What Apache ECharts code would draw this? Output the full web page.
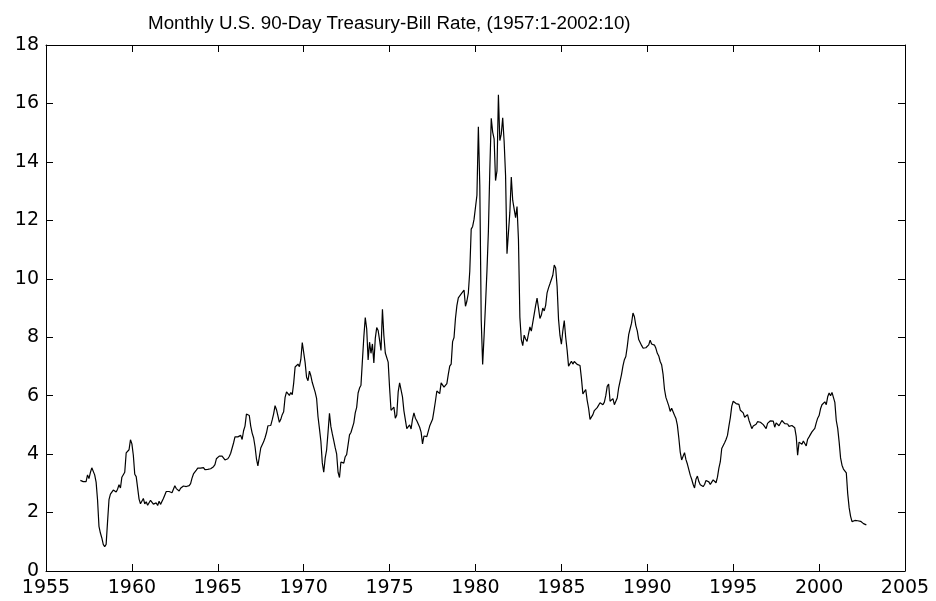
<!DOCTYPE html>
<html>
<head>
    <meta charset="utf-8">
    <title>Monthly U.S. 90-Day Treasury-Bill Rate</title>
    <script src="https://cdn.jsdelivr.net/npm/echarts@6/dist/echarts.min.js"></script>
</head>
<body style="margin:0; background:#fff;">
    <div id="chart" style="width: 936px; height: 601px;"></div>

    <script type="text/javascript">
        // monthly 90-day T-bill rate, percent, starting 1957:1
        var startYear = 1957;
        var xTicks = [1955, 1960, 1965, 1970, 1975, 1980, 1985, 1990, 1995, 2000, 2005];
        var yTicks = [0, 2, 4, 6, 8, 10, 12, 14, 16, 18];

        var rates1950s = [
            3.10, 3.08, 3.06, 3.06, 3.06, 3.29, 3.16, 3.37, 3.53, 3.58, 3.29, 3.04,
            2.44, 1.53, 1.30, 1.13, 0.91, 0.83, 0.91, 1.69, 2.44, 2.63, 2.67, 2.77,
            2.82, 2.70, 2.80, 2.95, 2.84, 3.21, 3.20, 3.38, 4.04, 4.05, 4.15, 4.49
        ];
        var rates1960s = [
            4.35, 3.96, 3.31, 3.23, 3.29, 2.46, 2.30, 2.30, 2.48, 2.30, 2.37, 2.25,
            2.24, 2.42, 2.39, 2.29, 2.29, 2.33, 2.24, 2.39, 2.28, 2.30, 2.48, 2.60,
            2.72, 2.73, 2.72, 2.73, 2.68, 2.73, 2.92, 2.82, 2.78, 2.74, 2.83, 2.87,
            2.91, 2.92, 2.89, 2.90, 2.92, 2.99, 3.18, 3.32, 3.38, 3.45, 3.52, 3.52,
            3.52, 3.53, 3.54, 3.47, 3.48, 3.48, 3.46, 3.50, 3.53, 3.57, 3.64, 3.84,
            3.81, 3.93, 3.93, 3.93, 3.89, 3.80, 3.84, 3.84, 3.92, 4.03, 4.09, 4.38,
            4.59, 4.65, 4.59, 4.62, 4.64, 4.50, 4.80, 4.96, 5.37, 5.35, 5.32, 4.96,
            4.72, 4.56, 4.26, 3.84, 3.60, 3.54, 4.21, 4.27, 4.42, 4.56, 4.73, 4.97,
            5.00, 4.98, 5.17, 5.38, 5.66, 5.52, 5.31, 5.09, 5.19, 5.35, 5.45, 5.94,
            6.13, 6.12, 6.01, 6.11, 6.03, 6.43, 6.98, 6.97, 7.08, 6.99, 7.24, 7.82
        ];
        var rates1970s = [
            7.87, 7.13, 6.63, 6.51, 6.84, 6.68, 6.45, 6.41, 6.12, 5.91, 5.28, 4.87,
            4.44, 3.70, 3.38, 3.86, 4.14, 4.75, 5.40, 4.94, 4.69, 4.46, 4.22, 4.01,
            3.38, 3.20, 3.73, 3.71, 3.69, 3.91, 3.98, 4.02, 4.66, 4.74, 4.78, 5.07,
            5.41, 5.60, 6.09, 6.26, 6.36, 7.19, 8.01, 8.67, 8.29, 7.22, 7.83, 7.45,
            7.77, 7.12, 7.96, 8.33, 8.23, 7.90, 7.55, 8.96, 8.06, 7.46, 7.47, 7.15,
            6.26, 5.50, 5.49, 5.61, 5.23, 5.34, 6.13, 6.44, 6.42, 5.96, 5.48, 5.44,
            4.87, 4.88, 5.00, 4.86, 5.20, 5.41, 5.23, 5.14, 5.08, 4.92, 4.75, 4.35,
            4.62, 4.67, 4.60, 4.54, 4.96, 5.02, 5.19, 5.49, 5.81, 6.16, 6.10, 6.07,
            6.44, 6.45, 6.29, 6.29, 6.41, 6.73, 7.01, 7.08, 7.85, 7.99, 8.64, 9.08,
            9.35, 9.32, 9.48, 9.46, 9.61, 9.06, 9.24, 9.52, 10.26, 11.70, 11.79, 12.04
        ];
        var rates1980s = [
            12.00, 12.86, 15.20, 13.20, 8.58, 7.07, 8.06, 9.13, 10.27, 11.62, 13.73, 15.49,
            15.02, 14.79, 13.36, 13.69, 16.30, 14.73, 14.95, 15.51, 14.70, 13.54, 10.86, 10.85,
            12.28, 13.48, 12.68, 12.70, 12.09, 12.47, 11.35, 8.68, 7.92, 7.71, 8.07, 7.94,
            7.86, 8.11, 8.35, 8.21, 8.19, 8.79, 9.08, 9.34, 9.00, 8.64, 8.76, 9.00,
            8.90, 9.09, 9.52, 9.69, 9.83, 9.87, 10.12, 10.47, 10.37, 9.74, 8.61, 8.06,
            7.76, 8.22, 8.57, 8.00, 7.56, 7.01, 7.05, 7.18, 7.08, 7.17, 7.20, 7.07,
            7.04, 7.03, 6.59, 6.06, 6.12, 6.21, 5.84, 5.57, 5.19, 5.18, 5.35, 5.49,
            5.45, 5.59, 5.56, 5.76, 5.75, 5.69, 5.78, 6.00, 6.32, 6.40, 5.81, 5.80,
            5.90, 5.69, 5.69, 5.92, 6.27, 6.50, 6.73, 7.02, 7.23, 7.34, 7.68, 8.09,
            8.29, 8.48, 8.83, 8.70, 8.40, 8.22, 7.92, 7.91, 7.72, 7.63, 7.65, 7.64
        ];
        var rates1990s = [
            7.64, 7.74, 7.90, 7.77, 7.74, 7.73, 7.62, 7.45, 7.36, 7.17, 7.06, 6.74,
            6.22, 5.94, 5.91, 5.65, 5.46, 5.57, 5.58, 5.33, 5.22, 4.99, 4.56, 4.07,
            3.80, 3.84, 4.05, 3.81, 3.66, 3.70, 3.28, 3.14, 2.97, 2.84, 3.14, 3.25,
            3.06, 2.95, 2.97, 2.89, 2.96, 3.10, 3.05, 3.05, 2.96, 3.04, 3.12, 3.08,
            3.02, 3.21, 3.52, 3.74, 4.19, 4.18, 4.39, 4.50, 4.64, 4.96, 5.25, 5.64,
            5.81, 5.80, 5.73, 5.67, 5.70, 5.50, 5.47, 5.41, 5.26, 5.30, 5.35, 5.16,
            5.02, 4.87, 4.96, 4.99, 5.02, 5.11, 5.17, 5.09, 5.15, 5.01, 5.03, 4.87,
            5.05, 5.00, 5.14, 5.17, 5.13, 4.92, 5.07, 5.13, 4.97, 4.95, 5.15, 5.16,
            5.04, 5.09, 5.03, 4.95, 5.00, 4.98, 4.96, 4.90, 4.61, 3.96, 4.41, 4.39,
            4.34, 4.45, 4.48, 4.28, 4.51, 4.59, 4.60, 4.76, 4.73, 4.88, 5.07, 5.23
        ];
        var rates2000s = [
            5.32, 5.55, 5.69, 5.66, 5.79, 5.69, 5.96, 6.09, 6.00, 6.11, 6.17, 5.77,
            5.15, 4.88, 4.42, 3.87, 3.62, 3.49, 3.51, 3.36, 2.64, 2.16, 1.87, 1.69,
            1.65, 1.73, 1.79, 1.72, 1.73, 1.70, 1.68, 1.62, 1.63, 1.58
        ];

        var rates = [].concat(rates1950s, rates1960s, rates1970s, rates1980s, rates1990s, rates2000s);
        var seriesData = [];
        for (var i = 0; i < rates.length; i++) {
            seriesData.push([startYear + i / 12, rates[i]]);
        }

        var axisColor = '#000';
        var tickFont = 'DejaVu Sans';

        function xAxisCfg(pos, showLabel) {
            return {
                type: 'value',
                position: pos,
                min: xTicks[0],
                max: xTicks[xTicks.length - 1],
                interval: 5,
                axisLine: { show: true, onZero: false, lineStyle: { color: axisColor, width: 1 } },
                axisTick: { show: true, inside: true, length: 7, lineStyle: { color: axisColor } },
                axisLabel: {
                    show: showLabel, color: '#000', fontFamily: tickFont, fontSize: 19, margin: 8,
                    formatter: function (v) { return String(v); }
                },
                splitLine: { show: false }
            };
        }

        function yAxisCfg(pos, showLabel) {
            return {
                type: 'value',
                position: pos,
                min: yTicks[0],
                max: yTicks[yTicks.length - 1],
                interval: 2,
                axisLine: { show: true, onZero: false, lineStyle: { color: axisColor, width: 1 } },
                axisTick: { show: true, inside: true, length: 7, lineStyle: { color: axisColor } },
                axisLabel: {
                    show: showLabel, color: '#000', fontFamily: tickFont, fontSize: 19, margin: 7,
                    formatter: function (v) { return String(v); }
                },
                splitLine: { show: false }
            };
        }

        var myChart = echarts.init(document.getElementById('chart'), null, { renderer: 'canvas' });
        myChart.setOption({
            animation: false,
            backgroundColor: '#fff',
            title: {
                text: 'Monthly U.S. 90-Day Treasury-Bill Rate, (1957:1-2002:10)',
                left: 143,
                top: 9,
                textStyle: { fontFamily: 'Liberation Sans', fontSize: 18.8, fontWeight: 'normal', color: '#000' }
            },
            grid: { left: 46, right: 31, top: 45, bottom: 30, containLabel: false },
            xAxis: [xAxisCfg('bottom', true), xAxisCfg('top', false)],
            yAxis: [yAxisCfg('left', true), yAxisCfg('right', false)],
            series: [{
                type: 'line',
                xAxisIndex: 0,
                yAxisIndex: 0,
                data: seriesData,
                showSymbol: false,
                lineStyle: { color: '#000', width: 1.2 }
            }]
        });
    </script>
</body>
</html>
